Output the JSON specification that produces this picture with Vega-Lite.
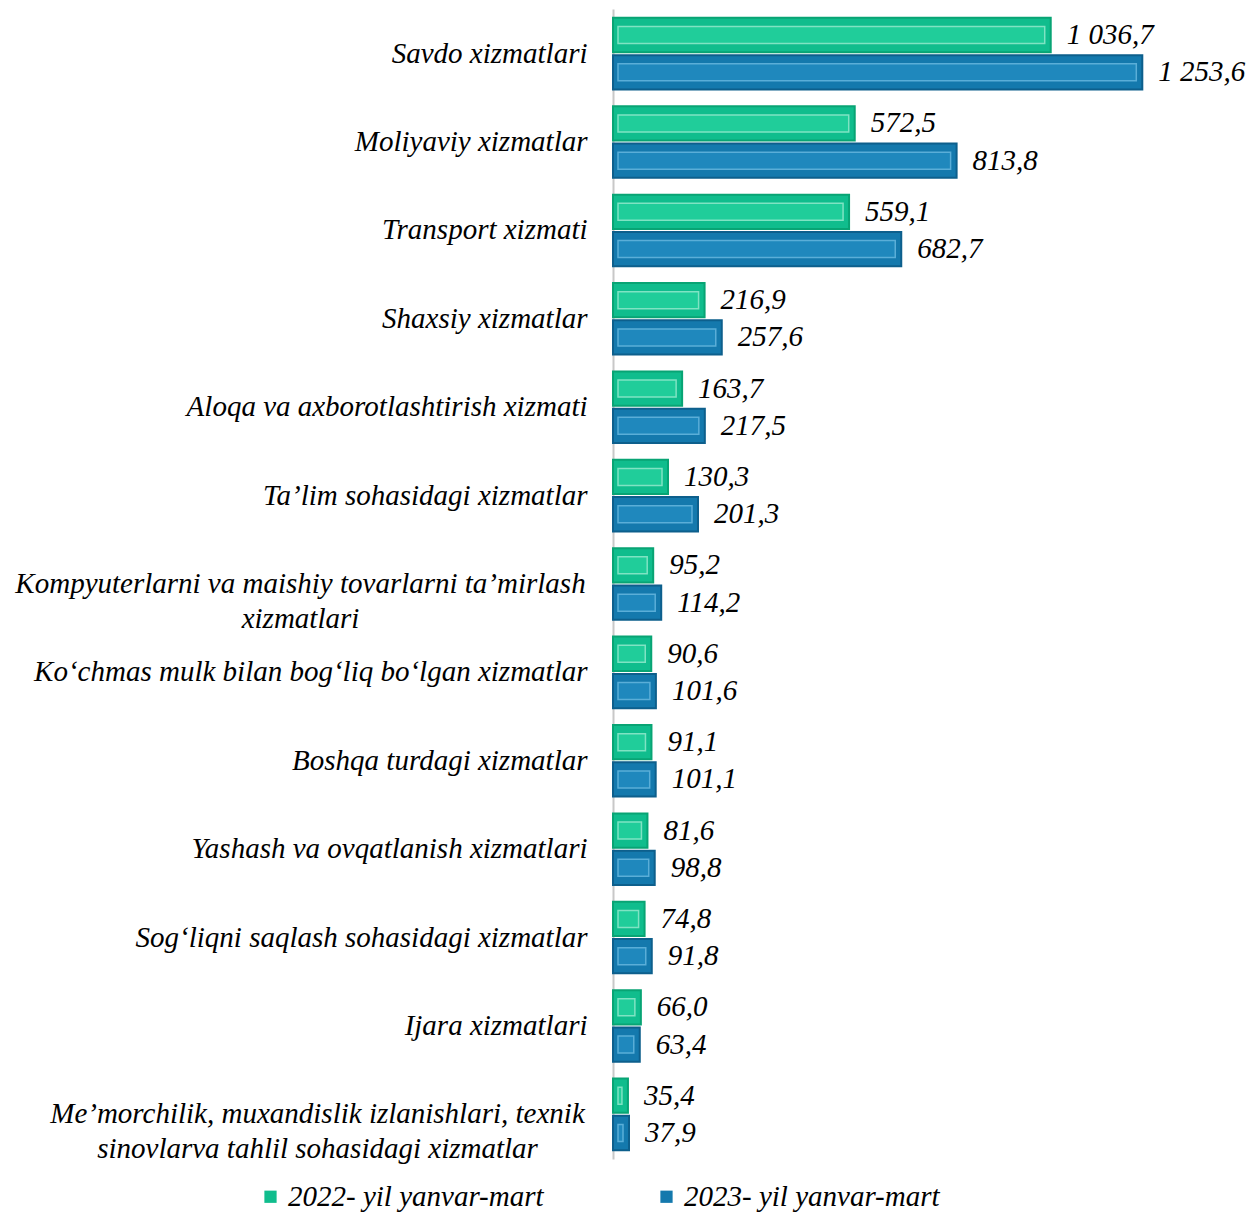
{
  "$schema": "https://vega.github.io/schema/vega-lite/v6.json",
  "padding": {"left": 14, "top": 9, "right": 2, "bottom": 4},
  "width": 570,
  "height": 1150,
  "data": {
    "values": [
      {"xizmat": "Savdo xizmatlari", "yil": "2022- yil yanvar-mart", "qiymat": 1036.7},
      {"xizmat": "Savdo xizmatlari", "yil": "2023- yil yanvar-mart", "qiymat": 1253.6},
      {"xizmat": "Moliyaviy xizmatlar", "yil": "2022- yil yanvar-mart", "qiymat": 572.5},
      {"xizmat": "Moliyaviy xizmatlar", "yil": "2023- yil yanvar-mart", "qiymat": 813.8},
      {"xizmat": "Transport xizmati", "yil": "2022- yil yanvar-mart", "qiymat": 559.1},
      {"xizmat": "Transport xizmati", "yil": "2023- yil yanvar-mart", "qiymat": 682.7},
      {"xizmat": "Shaxsiy xizmatlar", "yil": "2022- yil yanvar-mart", "qiymat": 216.9},
      {"xizmat": "Shaxsiy xizmatlar", "yil": "2023- yil yanvar-mart", "qiymat": 257.6},
      {"xizmat": "Aloqa va axborotlashtirish xizmati", "yil": "2022- yil yanvar-mart", "qiymat": 163.7},
      {"xizmat": "Aloqa va axborotlashtirish xizmati", "yil": "2023- yil yanvar-mart", "qiymat": 217.5},
      {"xizmat": "Ta’lim sohasidagi xizmatlar", "yil": "2022- yil yanvar-mart", "qiymat": 130.3},
      {"xizmat": "Ta’lim sohasidagi xizmatlar", "yil": "2023- yil yanvar-mart", "qiymat": 201.3},
      {"xizmat": "Kompyuterlarni va maishiy tovarlarni ta’mirlash|xizmatlari", "yil": "2022- yil yanvar-mart", "qiymat": 95.2},
      {"xizmat": "Kompyuterlarni va maishiy tovarlarni ta’mirlash|xizmatlari", "yil": "2023- yil yanvar-mart", "qiymat": 114.2},
      {"xizmat": "Ko‘chmas mulk bilan bog‘liq bo‘lgan xizmatlar", "yil": "2022- yil yanvar-mart", "qiymat": 90.6},
      {"xizmat": "Ko‘chmas mulk bilan bog‘liq bo‘lgan xizmatlar", "yil": "2023- yil yanvar-mart", "qiymat": 101.6},
      {"xizmat": "Boshqa turdagi xizmatlar", "yil": "2022- yil yanvar-mart", "qiymat": 91.1},
      {"xizmat": "Boshqa turdagi xizmatlar", "yil": "2023- yil yanvar-mart", "qiymat": 101.1},
      {"xizmat": "Yashash va ovqatlanish xizmatlari", "yil": "2022- yil yanvar-mart", "qiymat": 81.6},
      {"xizmat": "Yashash va ovqatlanish xizmatlari", "yil": "2023- yil yanvar-mart", "qiymat": 98.8},
      {"xizmat": "Sog‘liqni saqlash sohasidagi xizmatlar", "yil": "2022- yil yanvar-mart", "qiymat": 74.8},
      {"xizmat": "Sog‘liqni saqlash sohasidagi xizmatlar", "yil": "2023- yil yanvar-mart", "qiymat": 91.8},
      {"xizmat": "Ijara xizmatlari", "yil": "2022- yil yanvar-mart", "qiymat": 66.0},
      {"xizmat": "Ijara xizmatlari", "yil": "2023- yil yanvar-mart", "qiymat": 63.4},
      {"xizmat": "Me’morchilik, muxandislik izlanishlari, texnik|sinovlarva tahlil sohasidagi xizmatlar", "yil": "2022- yil yanvar-mart", "qiymat": 35.4},
      {"xizmat": "Me’morchilik, muxandislik izlanishlari, texnik|sinovlarva tahlil sohasidagi xizmatlar", "yil": "2023- yil yanvar-mart", "qiymat": 37.9}
    ]
  },
  "encoding": {
    "y": {
      "field": "xizmat",
      "type": "nominal",
      "sort": null,
      "scale": {"paddingInner": 0.19, "paddingOuter": 0.1},
      "axis": {
        "title": null,
        "ticks": false,
        "domainColor": "#c8c8c8",
        "domainWidth": 2,
        "labelExpr": "split(datum.label, '|')",
        "labelLimit": 700,
        "labelFont": "Times New Roman, Liberation Serif, DejaVu Serif, serif",
        "labelFontStyle": "italic",
        "labelFontSize": 29,
        "labelColor": "#000000",
        "labelLineHeight": 35,
        "labelAlign": {"condition": {"test": "indexof(datum.value, '|') >= 0", "value": "center"}, "value": "right"},
        "labelPadding": {
          "condition": [
            {"test": "indexof(datum.value, 'Kompyuter') >= 0", "value": 313},
            {"test": "indexof(datum.value, 'morchilik') >= 0", "value": 296}
          ],
          "value": 26
        }
      }
    },
    "yOffset": {"field": "yil", "type": "nominal", "scale": {"paddingInner": 0.08}},
    "x": {
      "field": "qiymat",
      "type": "quantitative",
      "scale": {"domain": [0, 1350], "nice": false},
      "axis": null
    }
  },
  "layer": [
    {
      "mark": {"type": "bar", "strokeWidth": 2},
      "encoding": {
        "color": {
          "field": "yil",
          "type": "nominal",
          "scale": {"range": ["#10bd8d", "#1479ad"]},
          "legend": {
            "title": null,
            "orient": "none",
            "legendX": -357,
            "legendY": 1173,
            "direction": "horizontal",
            "symbolType": "square",
            "symbolSize": 150,
            "symbolStrokeWidth": 0,
            "labelFont": "Times New Roman, Liberation Serif, DejaVu Serif, serif",
            "labelFontStyle": "italic",
            "labelFontSize": 29,
            "labelColor": "#000000",
            "labelLimit": 400,
            "columnPadding": 108,
            "labelOffset": 3
          }
        },
        "stroke": {
          "condition": {"test": "datum.yil === '2022- yil yanvar-mart'", "value": "#08a474"},
          "value": "#0d5f8c"
        }
      }
    },
    {
      "mark": {"type": "bar", "height": 17, "xOffset": -6, "x2Offset": 5, "strokeWidth": 1.5},
      "encoding": {
        "x2": {"datum": 0},
        "fill": {
          "condition": {"test": "datum.yil === '2022- yil yanvar-mart'", "value": "#20cd9a"},
          "value": "#1f88bd"
        },
        "stroke": {
          "condition": {"test": "datum.yil === '2022- yil yanvar-mart'", "value": "#7fe3c3"},
          "value": "#5aaed8"
        }
      }
    },
    {
      "mark": {
        "type": "text",
        "align": "left",
        "baseline": "middle",
        "dx": 16,
        "font": "Times New Roman, Liberation Serif, DejaVu Serif, serif",
        "fontStyle": "italic",
        "fontSize": 29,
        "color": "#000000"
      },
      "encoding": {
        "text": {"field": "qiymat", "type": "quantitative", "format": ",.1f"}
      }
    }
  ],
  "config": {
    "view": {"stroke": null},
    "locale": {
      "number": {"decimal": ",", "thousands": " ", "grouping": [3], "currency": ["", ""]}
    }
  }
}
